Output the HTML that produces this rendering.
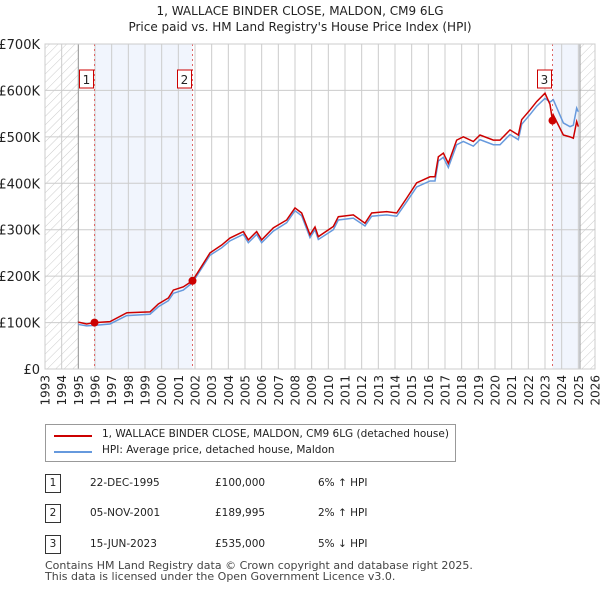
<!DOCTYPE html>
<html><head><meta charset="utf-8"><style>
body{margin:0;background:#fff;font-family:"DejaVu Sans","Liberation Sans",sans-serif;}
.t{position:absolute;font-size:13px;color:#222;white-space:nowrap;}
</style></head><body>
<div style="position:relative;width:600px;height:590px;overflow:hidden">
<div class="t" style="left:0;width:600px;text-align:center;top:3px;font-size:12px;line-height:16px">1, WALLACE BINDER CLOSE, MALDON, CM9 6LG<br>Price paid vs. HM Land Registry's House Price Index (HPI)</div>
<svg id="c" width="600" height="420" style="position:absolute;left:0;top:0"></svg>
<div style="position:absolute;left:45px;top:424px;width:409px;height:36px;border:1px solid #999;background:#fff">
 <div style="position:absolute;left:8px;top:10px;width:38px;height:2px;background:#cc0000"></div>
 <div class="t" style="left:56px;top:3px;font-size:10.5px">1, WALLACE BINDER CLOSE, MALDON, CM9 6LG (detached house)</div>
 <div style="position:absolute;left:8px;top:26px;width:38px;height:2px;background:#6699dd"></div>
 <div class="t" style="left:56px;top:19px;font-size:10.5px">HPI: Average price, detached house, Maldon</div>
</div>
<div id="rows"></div>
<div class="t" style="left:45px;top:560px;font-size:11px;line-height:11px;color:#444">Contains HM Land Registry data © Crown copyright and database right 2025.<br>This data is licensed under the Open Government Licence v3.0.</div>
</div>
<script>
const redYears=[1995.0,1995.5,1995.97,1996.9,1997.9,1999.3,1999.8,2000.4,2000.7,2001.3,2001.85,2002.9,2003.6,2004.1,2004.9,2005.2,2005.7,2006.0,2006.7,2007.5,2008.0,2008.4,2008.9,2009.2,2009.4,2010.3,2010.6,2011.5,2012.2,2012.6,2013.5,2014.1,2014.7,2015.3,2016.1,2016.4,2016.6,2016.9,2017.2,2017.7,2018.1,2018.7,2019.1,2019.9,2020.3,2020.9,2021.4,2021.6,2022.1,2022.5,2023.0,2023.3,2023.45,2023.5,2024.1,2024.5,2024.7,2024.9,2025.0];
const redVals=[101,97,100,102,121,123,140,153,170,177,190,250,267,282,296,278,296,278,304,321,347,336,289,306,285,307,328,332,314,336,339,336,368,401,414,414,457,465,443,493,500,490,504,493,493,515,504,537,558,576,594,570,535,547,504,500,497,533,522];
const hpiYears=[1995.0,1995.5,1995.97,1996.9,1997.9,1999.3,1999.8,2000.4,2000.7,2001.3,2001.85,2002.9,2003.6,2004.1,2004.9,2005.2,2005.7,2006.0,2006.7,2007.5,2008.0,2008.4,2008.9,2009.2,2009.4,2010.3,2010.6,2011.5,2012.2,2012.6,2013.5,2014.1,2014.7,2015.3,2016.1,2016.4,2016.6,2016.9,2017.2,2017.7,2018.1,2018.7,2019.1,2019.9,2020.3,2020.9,2021.4,2021.6,2022.1,2022.5,2023.0,2023.3,2023.5,2024.1,2024.5,2024.7,2024.9,2025.0];
const hpiVals=[96,93,94,97,115,118,134,147,163,170,186,245,261,276,290,272,290,272,297,315,341,330,283,300,279,300,321,325,308,329,332,329,360,392,405,405,448,456,434,483,490,480,494,483,483,505,494,527,548,566,583,575,580,530,522,525,562,554];
const sales=[{n:"1",y:1995.97,v:100,d:"22-DEC-1995",p:"£100,000",h:"6% ↑ HPI"},{n:"2",y:2001.85,v:189.995,d:"05-NOV-2001",p:"£189,995",h:"2% ↑ HPI"},{n:"3",y:2023.45,v:535,d:"15-JUN-2023",p:"£535,000",h:"5% ↓ HPI"}];
const yTicks=[0,100,200,300,400,500,600,700];
const yLabels=["£0","£100K","£200K","£300K","£400K","£500K","£600K","£700K"];
const X=y=>45+(y-1993)*550/33, Y=v=>369-v*325/700;
const s=document.getElementById('c'),NS='http://www.w3.org/2000/svg';
function E(t,a,p){const e=document.createElementNS(NS,t);for(const k in a)e.setAttribute(k,a[k]);(p||s).appendChild(e);return e;}
const defs=E('defs',{});const pat=E('pattern',{id:'h',width:6,height:6,patternUnits:'userSpaceOnUse',patternTransform:'rotate(45)'},defs);
E('line',{x1:0,y1:0,x2:0,y2:6,stroke:'#ccc','stroke-width':1},pat);
let r=E('rect',{x:X(1993),y:44,width:X(1995)-X(1993),height:325,fill:'url(#h)'});
r=E('rect',{x:X(2025.1),y:44,width:X(2026)-X(2025.1),height:325,fill:'url(#h)'});
r=E('rect',{x:X(sales[0].y),y:44,width:X(sales[1].y)-X(sales[0].y),height:325,fill:'#eef3fc',opacity:0.8});
r=E('rect',{x:X(sales[2].y),y:44,width:X(2025.1)-X(sales[2].y),height:325,fill:'#eef3fc',opacity:0.8});
for(let y=1993;y<=2026;y++){const l=E('line',{x1:X(y),x2:X(y),y1:44,y2:369,stroke:'#ccc'});
const t=E('text',{x:0,y:0,'text-anchor':'end','font-size':12,fill:'#222',transform:'translate('+(X(y)+4.5)+',375) rotate(-90)'});t.textContent=y;}
yTicks.forEach((v,i)=>{const l=E('line',{x1:45,x2:595,y1:Y(v),y2:Y(v),stroke:'#ccc'});
const t=E('text',{x:40,y:Y(v)+5,'text-anchor':'end','font-size':13,fill:'#222'});t.textContent=yLabels[i];});
E('line',{x1:X(1995),x2:X(1995),y1:44,y2:369,stroke:'#999'});E('line',{x1:X(2025.1),x2:X(2025.1),y1:44,y2:369,stroke:'#999'});
sales.forEach(o=>{const l=E('line',{x1:X(o.y),x2:X(o.y),y1:44,y2:369,stroke:'#e06666','stroke-dasharray':'2,3'});});
let p=E('polyline',{points:hpiYears.map((y,i)=>X(y)+','+Y(hpiVals[i])).join(' '),fill:'none',stroke:'#6699dd','stroke-width':1.5});
p=E('polyline',{points:redYears.map((y,i)=>X(y)+','+Y(redVals[i])).join(' '),fill:'none',stroke:'#cc0000','stroke-width':1.5});
sales.forEach(o=>{const c=E('circle',{cx:X(o.y),cy:Y(o.v),r:4,fill:'#cc0000'});
const g=E('rect',{x:X(o.y)-15,y:70,width:14,height:18,fill:'#fff',stroke:'#cc0000'});
const t=E('text',{x:X(o.y)-8,y:84,'text-anchor':'middle','font-size':12,fill:'#222'});t.textContent=o.n;});
E('rect',{x:45,y:44,width:550,height:325,fill:'none',stroke:'#ccc'});
const rows=document.getElementById('rows');const tops=[474,504,535];
sales.forEach((o,i)=>{const d=document.createElement('div');
d.style.cssText='position:absolute;left:0;top:'+tops[i]+'px;width:600px;height:20px;font-size:10.5px;color:#222';
d.innerHTML='<div style="position:absolute;left:45px;top:0;width:14px;height:17px;border:1px solid #333;text-align:center;line-height:17px">'+o.n+'</div><div style="position:absolute;left:90px;top:3px">'+o.d+'</div><div style="position:absolute;left:215px;top:3px">'+o.p+'</div><div style="position:absolute;left:318px;top:3px">'+o.h+'</div>';rows.appendChild(d);});
</script>
</body></html>
